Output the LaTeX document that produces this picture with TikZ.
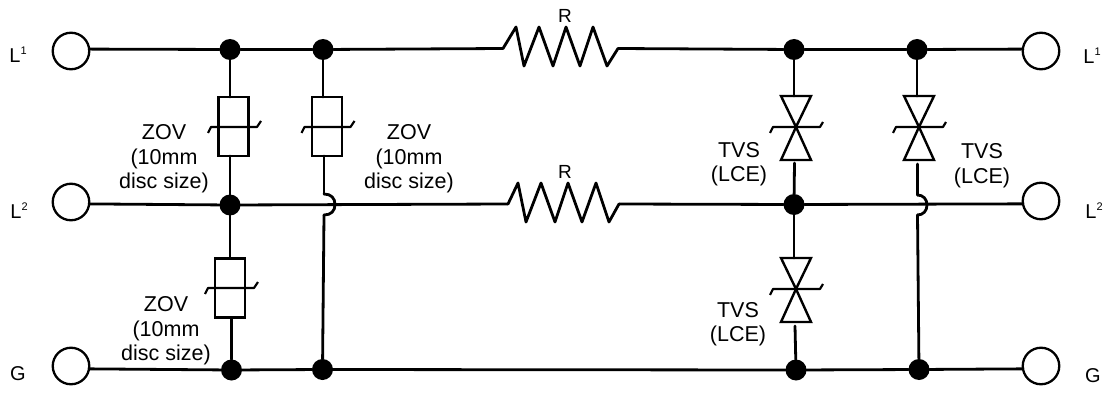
\documentclass[tikz,border=0pt]{standalone}
\usepackage{fontspec}
\setmainfont{Liberation Sans}
\newcommand{\supnum}[1]{\raisebox{8pt}{\fontsize{11}{11}\selectfont #1}}
\tikzset{
  wire/.style={line width=2.8pt,line cap=round,line join=round,black},
  terminal/.style={circle,draw=black,line width=2.3pt,minimum size=36.5pt,inner sep=0pt,outer sep=0pt},
  junction/.style={circle,fill=black,minimum size=21pt,inner sep=0pt,outer sep=0pt},
  zovbox/.style={rectangle,draw=black,line width=2.8pt,minimum width=30pt,minimum height=59pt,inner sep=0pt,outer sep=0pt},
  lab/.style={align=center,font=\fontsize{21.5}{24.5}\selectfont,inner sep=0pt},
  termlab/.style={font=\fontsize{20}{22}\selectfont,inner sep=0pt},
  reslab/.style={font=\fontsize{19}{20}\selectfont,inner sep=0pt},
  zbar/.pic={\draw[wire,line width=2.2pt,line cap=butt] (-26,6) -- (-23,0) -- (23,0) -- (27,-6);},
  tvs/.pic={
    \draw[wire,line width=2.4pt,line cap=butt,line join=miter] (-15,-31) -- (15,-31) -- (0,0) -- cycle;
    \draw[wire,line width=2.4pt,line cap=butt,line join=miter] (-15,33) -- (15,33) -- (0,0) -- cycle;
    \draw[wire,line width=2.2pt,line cap=butt] (-26,6) -- (-23,0) -- (24,0) -- (27,-5);
    \coordinate (-top) at (0,-31);
    \coordinate (-bot) at (0,33);
  }
}
\begin{document}
\begin{tikzpicture}[x=1pt,y=-1pt]
\useasboundingbox (0,0) rectangle (1111,396);
% terminals
\node[terminal] (tl1) at (71,51) {};
\node[terminal] (tl2) at (71,202) {};
\node[terminal] (tlg) at (71,366) {};
\node[terminal] (tr1) at (1041,51) {};
\node[terminal] (tr2) at (1041,201) {};
\node[terminal] (trg) at (1041,366) {};
% junctions
\node[junction] (a1) at (230,49.5) {};
\node[junction] (b1) at (323,49.5) {};
\node[junction] (c1) at (794,49.5) {};
\node[junction] (e1) at (917,49.5) {};
\node[junction] (a2) at (230,205) {};
\node[junction] (c2) at (794,204.5) {};
\node[junction] (a3) at (231.5,370) {};
\node[junction] (b3) at (322.5,369.5) {};
\node[junction] (c3) at (796,370) {};
\node[junction] (e3) at (919,369.5) {};
% resistor end points
\coordinate (r1a) at (503,48.5);
\coordinate (r1b) at (618,48.5);
\coordinate (r2a) at (508,204);
\coordinate (r2b) at (619,204);
% varistors
\node[zovbox] (z1) at (233.5,126.5) {};
\node[zovbox] (z2) at (327,126.5) {};
\node[zovbox] (z3) at (230,288) {};
\pic at (234,127) {zbar};
\pic at (327.5,127) {zbar};
\pic at (231,288) {zbar};
% TVS
\pic (t1) at (796,127) {tvs};
\pic (t2) at (919,127) {tvs};
\pic (t3) at (796,289) {tvs};
\coordinate (t1w) at (794.5,163);
\coordinate (t2w) at (917.5,164);
\coordinate (t3w) at (795,326);
% hops
\coordinate (h1a) at (324,194);
\coordinate (h1b) at (324,215);
\coordinate (h2a) at (917.5,195);
\coordinate (h2b) at (917.5,215);
% horizontal lines
\draw[wire] (tl1.6) -- (a1);
\draw[wire] (a1) -- (b1);
\draw[wire] (b1) -- (r1a);
\draw[wire] (r1a) -- (516,27) -- (524,66) -- (539,27) -- (553,66) -- (566,27) -- (580,66) -- (593,27) -- (607,66) -- (r1b);
\draw[wire] (r1b) -- (c1);
\draw[wire] (c1) -- (e1);
\draw[wire] (e1) -- (tr1.174);
\draw[wire] (tl2.-6) -- (a2);
\draw[wire] (a2) -- (r2a);
\draw[wire] (r2a) -- (518,183) -- (526,222) -- (541,183) -- (555,222) -- (568,183) -- (582,222) -- (596,183) -- (609,222) -- (r2b);
\draw[wire] (r2b) -- (c2);
\draw[wire] (c2) -- (tr2.189);
\draw[wire] (tlg.-9) -- (a3);
\draw[wire] (a3) -- (b3);
\draw[wire] (b3) -- (c3);
\draw[wire] (c3) -- (e3);
\draw[wire] (e3) -- (trg.189);
% vertical lines
\draw[wire] (a1) -- (z1.north -| a1);
\draw[wire] (z1.south -| a1) -- (a2);
\draw[wire] (a2) -- (z3.north -| a2);
\draw[wire] (z3.south -| a3) -- (a3);
\draw[wire] (b1) -- (z2.north -| b1);
\draw[wire] (z2.south -| h1a) -- (h1a);
\draw[wire] (h1a) .. controls (331,194) and (335,198) .. (335,204.5) .. controls (335,211) and (331,215) .. (h1b);
\draw[wire] (h1b) -- (b3);
\draw[wire] (c1) -- (t1-top -| c1);
\draw[wire] (t1w) -- (c2);
\draw[wire] (c2) -- (t3-top -| c2);
\draw[wire] (t3w) -- (c3);
\draw[wire] (e1) -- (t2-top -| e1);
\draw[wire] (t2w) -- (h2a);
\draw[wire] (h2a) .. controls (923,195) and (927,199) .. (927,205) .. controls (927,211) and (923,215) .. (h2b);
\draw[wire] (h2b) -- (e3);
% labels
\node[lab] (lz1) at (164,159) {ZOV\\(10mm\\disc size)};
\node[lab] (lz2) at (409,159) {ZOV\\(10mm\\disc size)};
\node[lab] (lz3) at (166,331) {ZOV\\(10mm\\disc size)};
\node[lab] (lt1) at (739,164) {TVS\\(LCE)};
\node[lab] (lt2) at (982,165.5) {TVS\\(LCE)};
\node[lab] (lt3) at (738,324) {TVS\\(LCE)};
\node[reslab] (lr1) at (565,15.5) {R};
\node[reslab] (lr2) at (565,172) {R};
\node[termlab] (ll1) at (18,55) {L\supnum{1}};
\node[termlab] (ll2) at (19,211) {L\supnum{2}};
\node[termlab] (llg) at (18,374) {G};
\node[termlab] (lr1t) at (1092,56) {L\supnum{1}};
\node[termlab] (lr2t) at (1094,211) {L\supnum{2}};
\node[termlab] (lrgt) at (1093,376) {G};
\end{tikzpicture}
\end{document}
